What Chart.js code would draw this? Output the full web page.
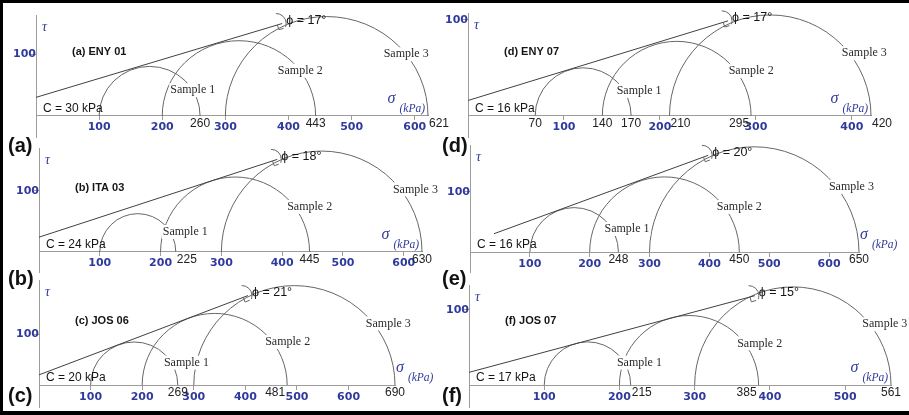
<!DOCTYPE html>
<html>
<head>
<meta charset="utf-8">
<script src="https://cdn.jsdelivr.net/npm/chart.js@4.4.1/dist/chart.umd.min.js"></script>
<style>
  html, body { margin: 0; padding: 0; background: #fff; }
  #fig { position: relative; width: 909px; height: 415px; overflow: hidden; background: #fff; }
  #fig canvas { position: absolute; left: 0; top: 0; }
  .rule { position: absolute; background: #000; }
  .tag { position: absolute; font: bold 20px "Liberation Sans", Arial, sans-serif; color: #111; line-height: 23px; }
</style>
</head>
<body>
<div id="fig"></div>
<script>
// Principal stresses of the three specimens per soil (kPa)
const sigma3A = [100, 200, 300], sigma1A = [260, 443, 621];
const sigma3B = [100, 200, 300], sigma1B = [225, 445, 630];
const sigma3C = [100, 200, 300], sigma1C = [269, 481, 690];
const sigma3D = [70, 140, 210],  sigma1D = [170, 295, 420];
const sigma3E = [100, 200, 300], sigma1E = [248, 450, 650];
const sigma3F = [100, 200, 300], sigma1F = [215, 385, 561];

// Mohr-Coulomb parameters
const cohesion = [30, 24, 20, 16, 16, 17];          // C (kPa)
const frictionAngle = [17, 18, 21, 17, 20, 15];     // phi (degrees)
const envelopeStart = [0, 0, 0, 0, 40, 0];          // sigma where the envelope line starts
const envelopeEnd = [390, 392, 405, 271, 398, 380]; // sigma where it stops at the right-angle mark

const panelTitles = ['(a) ENY 01', '(b) ITA 03', '(c) JOS 06', '(d) ENY 07', '', '(f) JOS 07'];
const panelTags = ['(a)', '(b)', '(c)', '(d)', '(e)', '(f)'];
const sampleNames = ['Sample 1', 'Sample 2', 'Sample 3'];

// Axis ticks and tau extents
const xTicksA = [100, 200, 300, 400, 500, 600];
const xTicksB = [100, 200, 300, 400, 500, 600];
const xTicksC = [100, 200, 300, 400, 500, 600];
const xTicksD = [100, 200, 300, 400];
const xTicksE = [100, 200, 300, 400, 500, 600];
const xTicksF = [100, 200, 300, 400, 500];
const yTicks = [100];
const tauMin = [-34, -33, -43, -22, -33, -29];
const tauMax = [163, 170, 206, 107, 178, 133];

const panels = [
  { s3: sigma3A, s1: sigma1A, xt: xTicksA },
  { s3: sigma3B, s1: sigma1B, xt: xTicksB },
  { s3: sigma3C, s1: sigma1C, xt: xTicksC },
  { s3: sigma3D, s1: sigma1D, xt: xTicksD },
  { s3: sigma3E, s1: sigma1E, xt: xTicksE },
  { s3: sigma3F, s1: sigma1F, xt: xTicksF }
];

// Page layout: plot-area box of each panel (px) and the column edge it may use
const W = 909, H = 415;
const plotBoxes = [
  { left: 36,  top: 15,  right: 428, bottom: 137, edge: 440 },
  { left: 39,  top: 148, right: 422, bottom: 272, edge: 440 },
  { left: 39,  top: 280, right: 395, bottom: 407, edge: 440 },
  { left: 468, top: 13,  right: 871, bottom: 137, edge: 907 },
  { left: 470, top: 145, right: 859, bottom: 272, edge: 907 },
  { left: 469, top: 285, right: 891, bottom: 407, edge: 907 }
];
const sampleLabelShift = [0, 15, 15, 15, 15, 15];
const sampleLabelRise = [0.52, 0.60, 0.62];
const tagPos = [[8, 134], [8, 267], [8, 384], [442, 134], [442, 267], [442, 384]];

const BLUE = '#2f3a9c';
const INK = '#151515';
const AXIS = '#9c9c9c';
const ARC = '#666666';

const fig = document.getElementById('fig');
[['0px', '0px', W + 'px', '3px'], ['0px', '0px', '3px', H + 'px'], ['0px', (H - 4) + 'px', W + 'px', '4px']]
  .forEach(([l, t, w, h]) => {
    const d = document.createElement('div');
    d.className = 'rule';
    Object.assign(d.style, { left: l, top: t, width: w, height: h });
    fig.appendChild(d);
  });

function endpointAlign(v, ticks) {
  for (const t of ticks) {
    if (v > t && v - t < 30) return 'left';
    if (v < t && t - v < 30) return 'right';
  }
  return 'center';
}

const mohrPlugin = {
  id: 'mohr',
  beforeDatasetsDraw(chart, args, opts) {
    const p = panels[opts.panel];
    const xs = chart.scales.x, ys = chart.scales.y, ctx = chart.ctx;
    ctx.save();
    ctx.strokeStyle = ARC;
    ctx.lineWidth = 1;
    p.s3.forEach((s3, k) => {
      const c = (s3 + p.s1[k]) / 2, r = (p.s1[k] - s3) / 2;
      const cx = xs.getPixelForValue(c), cy = ys.getPixelForValue(0);
      const rx = xs.getPixelForValue(c + r) - cx, ry = cy - ys.getPixelForValue(r);
      ctx.beginPath();
      ctx.ellipse(cx, cy, rx, ry, 0, Math.PI, 2 * Math.PI);
      ctx.stroke();
    });
    ctx.restore();
  },
  afterDatasetsDraw(chart, args, opts) {
    const i = opts.panel, p = panels[i], box = plotBoxes[i];
    const xs = chart.scales.x, ys = chart.scales.y, ctx = chart.ctx;
    const x0 = xs.getPixelForValue(0), y0 = ys.getPixelForValue(0);
    ctx.save();

    // sample labels sitting on their circles
    ctx.font = '12px "Liberation Serif", "Times New Roman", serif';
    ctx.textBaseline = 'middle';
    ctx.textAlign = 'center';
    p.s3.forEach((s3, k) => {
      const c = (s3 + p.s1[k]) / 2, r = (p.s1[k] - s3) / 2;
      const cx = xs.getPixelForValue(c);
      const rx = xs.getPixelForValue(c + r) - cx, ry = y0 - ys.getPixelForValue(r);
      const sn = sampleLabelRise[k], cs = Math.sqrt(1 - sn * sn);
      const lx = cx + rx * cs + sampleLabelShift[i], ly = y0 - ry * sn;
      const w = ctx.measureText(sampleNames[k]).width;
      ctx.fillStyle = '#fff';
      ctx.fillRect(lx - w / 2 - 1, ly - 7, w + 2, 14);
      ctx.fillStyle = '#2a2a2a';
      ctx.fillText(sampleNames[k], lx, ly);
    });

    // stress values at circle ends that fall between the axis ticks
    ctx.font = '12px "Liberation Sans", Arial, sans-serif';
    ctx.fillStyle = '#222';
    const ends = [...p.s3, ...p.s1].filter(v => v % 100 !== 0).sort((a, b) => a - b);
    ends.forEach(v => {
      const a = endpointAlign(v, p.xt);
      let px = xs.getPixelForValue(v);
      if (a === 'left') px += 1;
      if (a === 'right') px -= 2;
      ctx.textAlign = a;
      ctx.fillText(String(v), px, y0 + 8);
    });

    // right-angle mark and angle arc where the envelope stops
    const tanPhi = Math.tan(frictionAngle[i] * Math.PI / 180);
    const sA = envelopeStart[i], sB = envelopeEnd[i];
    const ax = xs.getPixelForValue(sA), ay = ys.getPixelForValue(cohesion[i] + sA * tanPhi);
    const ex = xs.getPixelForValue(sB), ey = ys.getPixelForValue(cohesion[i] + sB * tanPhi);
    const len = Math.hypot(ex - ax, ey - ay);
    const ux = (ex - ax) / len, uy = (ey - ay) / len;
    const nx = -uy, ny = ux;
    ctx.strokeStyle = '#666';
    ctx.lineWidth = 1;
    ctx.beginPath();
    ctx.moveTo(ex - 5 * ux, ey - 5 * uy);
    ctx.lineTo(ex - 5 * ux + 5 * nx, ey - 5 * uy + 5 * ny);
    ctx.lineTo(ex + 5 * nx, ey + 5 * ny);
    ctx.stroke();
    ctx.beginPath();
    ctx.arc(ex - 6, ey, 10, -1.6, 0.35);
    ctx.stroke();

    ctx.fillStyle = INK;
    ctx.textAlign = 'left';
    ctx.textBaseline = 'middle';
    ctx.font = '12.5px "Liberation Sans", Arial, sans-serif';
    ctx.fillText('\u03D5 = ' + frictionAngle[i] + '\u00B0', ex + 4, ey - 3);

    // cohesion label
    ctx.textBaseline = 'alphabetic';
    ctx.font = '12px "Liberation Sans", Arial, sans-serif';
    ctx.fillText('C = ' + cohesion[i] + ' kPa', x0 + 7, y0 - 4);

    // soil title
    if (panelTitles[i]) {
      ctx.textBaseline = 'middle';
      ctx.font = 'bold 11px "Liberation Sans", Arial, sans-serif';
      ctx.fillText(panelTitles[i], x0 + 36, y0 - 64);
    }

    // axis names
    ctx.fillStyle = BLUE;
    ctx.textBaseline = 'middle';
    ctx.font = 'italic 14px "Liberation Serif", "Times New Roman", serif';
    ctx.fillText('\u03C4', x0 + 6, box.top + 12);

    const sigFont = 'italic 16px "Liberation Serif", "Times New Roman", serif';
    const unitFont = 'italic 11.5px "Liberation Serif", "Times New Roman", serif';
    ctx.font = sigFont;
    const ws = ctx.measureText('\u03C3').width;
    ctx.font = unitFont;
    const wu = ctx.measureText('(kPa)').width;
    const total = ws + 4 + wu;
    const xEnd = xs.getPixelForValue(Math.max(...p.s1));
    const sx = (xEnd + total + 2 < box.edge) ? xEnd + 1 : xEnd - 3 - total;
    ctx.font = sigFont;
    ctx.fillText('\u03C3', sx, y0 - 17);
    ctx.font = unitFont;
    ctx.fillText('(kPa)', sx + ws + 4, y0 - 7);

    ctx.restore();
  }
};

panels.forEach((p, i) => {
  const box = plotBoxes[i];
  const cv = document.createElement('canvas');
  cv.width = W; cv.height = H;
  cv.style.width = W + 'px'; cv.style.height = H + 'px';
  fig.appendChild(cv);

  const tanPhi = Math.tan(frictionAngle[i] * Math.PI / 180);
  const envelope = [envelopeStart[i], envelopeEnd[i]].map(s => ({ x: s, y: cohesion[i] + s * tanPhi }));

  new Chart(cv, {
    type: 'scatter',
    data: {
      datasets: [{
        data: envelope,
        showLine: true,
        borderColor: '#404040',
        borderWidth: 1,
        pointRadius: 0,
        fill: false
      }]
    },
    options: {
      responsive: false,
      animation: false,
      devicePixelRatio: 1,
      events: [],
      layout: { padding: { left: box.left, top: box.top, right: W - box.right, bottom: H - box.bottom } },
      plugins: { legend: { display: false }, tooltip: { enabled: false }, mohr: { panel: i } },
      scales: {
        x: {
          type: 'linear',
          min: 0,
          max: Math.max(...p.s1),
          position: { y: 0 },
          afterBuildTicks: s => { s.ticks = p.xt.map(v => ({ value: v })); },
          grid: { display: true, drawOnChartArea: false, drawTicks: true, tickLength: 4, color: AXIS },
          border: { display: true, color: AXIS, width: 1 },
          ticks: {
            autoSkip: false, maxRotation: 0, padding: 1, color: BLUE,
            font: { family: 'DejaVu Sans', weight: 'bold', size: 11 }
          }
        },
        y: {
          type: 'linear',
          min: tauMin[i],
          max: tauMax[i],
          position: { x: 0 },
          afterBuildTicks: s => { s.ticks = yTicks.map(v => ({ value: v })); },
          grid: { display: true, drawOnChartArea: false, drawTicks: true, tickLength: 5, color: AXIS },
          border: { display: true, color: AXIS, width: 1 },
          ticks: {
            padding: 1, color: BLUE,
            font: { family: 'DejaVu Sans', weight: 'bold', size: 11 }
          }
        }
      }
    },
    plugins: [mohrPlugin]
  });
});

panelTags.forEach((t, i) => {
  const d = document.createElement('div');
  d.className = 'tag';
  d.textContent = t;
  d.style.left = tagPos[i][0] + 'px';
  d.style.top = tagPos[i][1] + 'px';
  fig.appendChild(d);
});
</script>
</body>
</html>
